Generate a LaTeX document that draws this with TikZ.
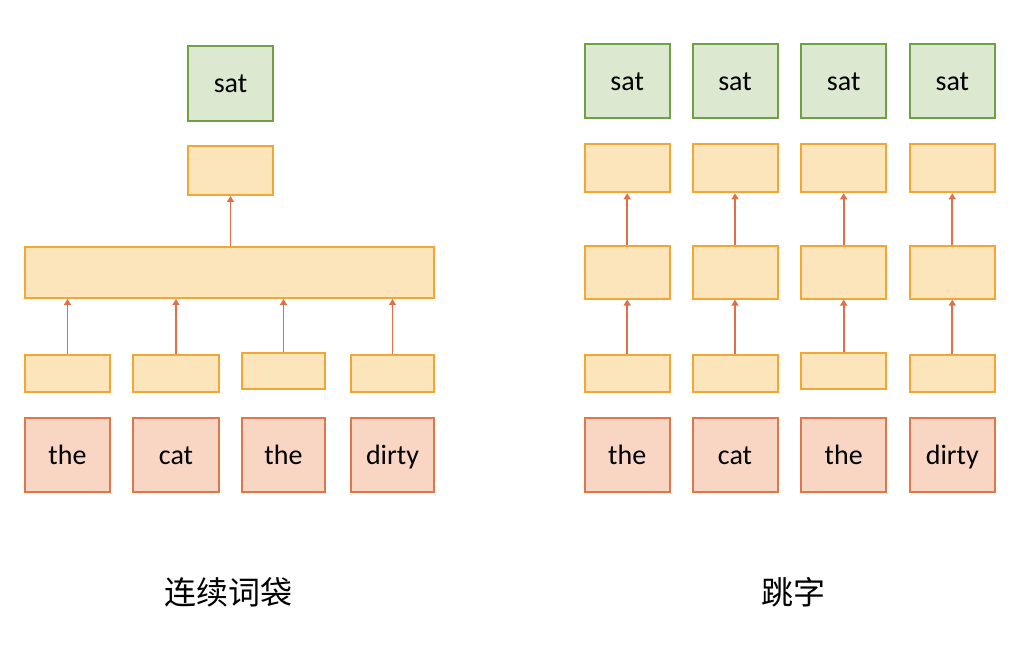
\documentclass[tikz,border=0pt]{standalone}
\usepackage{fontspec}
\setmainfont{Carlito}
\newfontfamily\cjk{Noto Sans CJK SC}
\usetikzlibrary{arrows.meta}
\definecolor{gfill}{HTML}{DCE8CF}
\definecolor{gline}{HTML}{6FA046}
\definecolor{yfill}{HTML}{FCE5BA}
\definecolor{yline}{HTML}{F2A735}
\definecolor{wfill}{HTML}{F9D6C3}
\definecolor{wline}{HTML}{E0774A}
\definecolor{aline}{HTML}{E0704A}
\tikzset{
  box/.style={draw, line width=2pt, inner sep=0pt, minimum width=85pt, font=\fontsize{28}{32}\selectfont, text height=19pt, text depth=0pt},
  outbox/.style={box, fill=gfill, draw=gline, minimum height=75pt},
  hidbox/.style={box, fill=yfill, draw=yline},
  wordbox/.style={box, fill=wfill, draw=wline, minimum height=74pt},
  arr/.style={draw=aline, line width=1.8pt, -{Triangle[width=7pt,length=6pt]}},
  caption/.style={font=\cjk\fontsize{32}{36}\selectfont}
}
\begin{document}
\begin{tikzpicture}[x=1pt,y=-1pt]
\useasboundingbox (0,0) rectangle (1029,647);
% ---------- left: CBOW ----------
\node[outbox] (Lsat) at (230.5,83.5) {sat};
\node[hidbox, minimum height=49pt] (Lh) at (230.5,170.5) {};
\node[hidbox, minimum width=409pt, minimum height=51pt] (Lbig) at (229.5,272.5) {};
\node[hidbox, minimum height=37pt] (Ls1) at (67.5,373.5) {};
\node[hidbox, minimum width=86pt, minimum height=37pt] (Ls2) at (176,373.5) {};
\node[hidbox, minimum width=83pt, minimum height=36pt] (Ls3) at (283.5,371) {};
\node[hidbox, minimum width=83pt, minimum height=37pt] (Ls4) at (392.5,373.5) {};
\node[wordbox] (Lw1) at (67.5,455) {the};
\node[wordbox, minimum width=86pt] (Lw2) at (176,455) {cat};
\node[wordbox, minimum width=83pt] (Lw3) at (283.5,455) {the};
\node[wordbox, minimum width=83pt] (Lw4) at (392.5,455) {dirty};
\foreach \i in {1,...,4}{
  \draw[arr] (Ls\i.north) -- (Ls\i.north |- Lbig.south);
}
\draw[arr] (Lh.south |- Lbig.north) -- (Lh.south);
\node[caption] (Lcap) at (228,592) {连续词袋};
% ---------- right: skip-gram ----------
\foreach \i/\x in {1/627.2,2/735,3/843.7,4/952.3}{
  \node[outbox, minimum height=74pt] (Rsat\i) at (\x,81.5) {sat};
  \node[hidbox, minimum height=48pt] (Rh\i) at (\x,168.3) {};
  \node[hidbox, minimum height=52.5pt] (Rm\i) at (\x,272.3) {};
}
\node[hidbox, minimum height=37pt] (Rs1) at (627.2,373.5) {};
\node[hidbox, minimum height=37pt] (Rs2) at (735,373.5) {};
\node[hidbox, minimum height=36pt] (Rs3) at (843.7,371) {};
\node[hidbox, minimum height=37pt] (Rs4) at (952.3,373.5) {};
\node[wordbox] (Rw1) at (627.2,455) {the};
\node[wordbox] (Rw2) at (735,455) {cat};
\node[wordbox] (Rw3) at (843.7,455) {the};
\node[wordbox] (Rw4) at (952.3,455) {dirty};
\foreach \i in {1,...,4}{
  \draw[arr] (Rs\i.north) -- (Rm\i.south);
  \draw[arr] (Rm\i.north) -- (Rh\i.south);
}
\node[caption] (Rcap) at (793,592) {跳字};
\end{tikzpicture}
\end{document}
